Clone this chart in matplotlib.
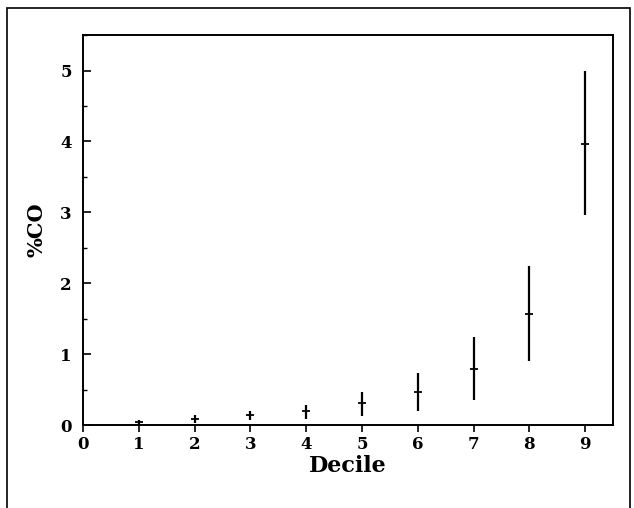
from matplotlib import pyplot as plt
from matplotlib.patches import Rectangle
from matplotlib.ticker import MultipleLocator
import numpy as np

# values
deciles = [1, 2, 3, 4, 5, 6, 7, 8, 9]
co_mean = [0.05, 0.09, 0.14, 0.20, 0.31, 0.47, 0.79, 1.57, 3.97]
co_low = [0.00, 0.03, 0.07, 0.09, 0.13, 0.20, 0.35, 0.90, 2.97]
co_high = [0.08, 0.14, 0.20, 0.29, 0.47, 0.73, 1.24, 2.24, 4.99]

plt.rcParams['font.family'] = ['DejaVu Serif']
plt.rcParams['font.weight'] = 'bold'

fig = plt.figure(figsize=(6.34, 5.08), dpi=100)
ax = fig.add_axes([0.131, 0.163, 0.836, 0.768])

mean = np.array(co_mean)
yerr = [mean - np.array(co_low), np.array(co_high) - mean]
ax.errorbar(deciles, co_mean, yerr=yerr, fmt='_', color='black',
	markersize=6, markeredgewidth=1.3, elinewidth=1.6, capsize=0)

ax.set_xlim(0, 9.5)
ax.set_ylim(0, 5.5)
ax.xaxis.set_major_locator(MultipleLocator(1))
ax.yaxis.set_major_locator(MultipleLocator(1))
ax.yaxis.set_minor_locator(MultipleLocator(0.5))
ax.tick_params(axis='x', direction='out', length=5, width=1.2, labelsize=12, pad=3)
ax.tick_params(axis='y', which='major', direction='in', length=6, width=1.2, labelsize=12, pad=8)
ax.tick_params(axis='y', which='minor', direction='in', length=3, width=1)
for lab in ax.get_xticklabels() + ax.get_yticklabels():
	lab.set_fontweight('bold')
for sp in ax.spines.values():
	sp.set_linewidth(1.4)

ax.set_xlabel('Decile', fontsize=16, fontweight='bold', labelpad=1)
ax.set_ylabel('%CO', fontsize=15, fontweight='bold', labelpad=10)

# outer frame of the scanned figure
fig.patches.append(Rectangle((0.011, -0.05), 0.982, 1.035, transform=fig.transFigure,
	fill=False, edgecolor='black', linewidth=1.2))

fig.savefig('out.png', dpi=100)
